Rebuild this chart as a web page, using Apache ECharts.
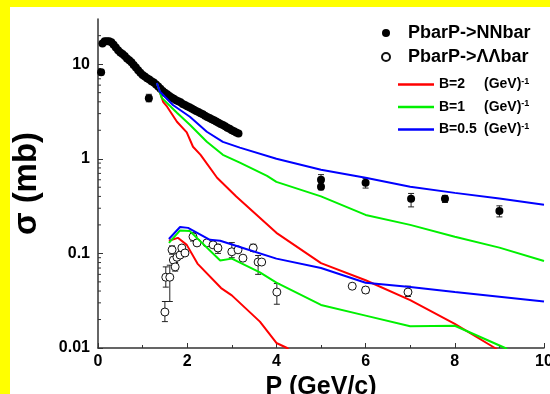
<!DOCTYPE html>
<html>
<head>
<meta charset="utf-8">
<script src="https://cdn.jsdelivr.net/npm/echarts@6/dist/echarts.min.js"></script>
<style>
html,body{margin:0;padding:0;background:#ffff00;}
#c{width:550px;height:394px;}
</style>
</head>
<body>
<div id="c"></div>
<script>
// ---- data ----
const xTicks = [0, 2, 4, 6, 8, 10];
const yTickLabels = ['0.01', '0.1', '1', '10'];
const yMinorTicks = [0.02,0.03,0.04,0.05,0.06,0.07,0.08,0.09,0.2,0.3,0.4,0.5,0.6,0.7,0.8,0.9,2,3,4,5,6,7,8,9,20];

// dense measured NNbar data (P, sigma)
const nnDense = [
 [0.10,16.5],[0.15,17.5],[0.20,17.5],[0.25,17.5],[0.30,17.0],[0.35,16.0],[0.40,15.0],[0.45,14.0],
 [0.50,13.3],[0.55,12.8],[0.60,12.2],[0.65,11.5],[0.70,11.0],[0.75,10.5],[0.80,9.8],[0.85,9.2],
 [0.90,8.6],[0.95,8.1],[1.00,7.7],[1.05,7.4],[1.10,7.1],[1.15,6.9],[1.20,6.6],[1.25,6.4],
 [1.30,6.1],[1.35,5.8],[1.40,5.5],[1.45,5.2],[1.50,5.0],[1.55,4.8],[1.60,4.6],[1.65,4.45],
 [1.70,4.3],[1.75,4.15],[1.80,4.05],[1.85,3.95],[1.90,3.8],[1.95,3.7],[2.00,3.6],[2.05,3.5],
 [2.10,3.4],[2.15,3.3],[2.20,3.2],[2.25,3.12],[2.30,3.03],[2.35,2.95],[2.40,2.85],[2.45,2.77],
 [2.50,2.7],[2.55,2.62],[2.60,2.55],[2.65,2.47],[2.70,2.4],[2.75,2.33],[2.80,2.27],[2.85,2.2],
 [2.90,2.13],[2.95,2.07],[3.00,2.0],[3.05,1.95],[3.10,1.9],[3.15,1.85]
];
// isolated NNbar points
const nnPoints = [[0.07,8.2],[1.14,4.35],[5.0,0.60],[5.0,0.505],[6.0,0.557],[7.02,0.377],[7.78,0.377],[9.0,0.28]];
const nnErr = [[0.07,7.7,8.8],[1.14,4.0,4.8],[5.0,0.56,0.68],[5.0,0.47,0.54],[6.0,0.49,0.62],[7.02,0.31,0.43],[7.78,0.345,0.41],[9.0,0.243,0.318]];

// LambdaLambdabar points
const llPoints = [
 [1.50,0.024],[1.52,0.056],[1.61,0.056],[1.66,0.109],[1.69,0.085],[1.73,0.072],[1.77,0.091],
 [1.84,0.096],[1.88,0.114],[1.95,0.101],[2.13,0.15],[2.22,0.129],[2.44,0.129],[2.58,0.123],
 [2.69,0.114],[3.0,0.104],[3.14,0.109],[3.25,0.089],[3.48,0.114],[3.59,0.081],[3.67,0.081],
 [4.01,0.039],[5.7,0.045],[6.0,0.041],[6.95,0.039]
];
const llErr = [
 [1.50,0.019,0.031],[1.52,0.044,0.072],[1.61,0.031,0.075],[1.66,0.098,0.12],[1.73,0.065,0.08],
 [2.13,0.135,0.165],[2.69,0.10,0.125],[3.0,0.09,0.13],[3.48,0.105,0.125],[3.59,0.06,0.095],
 [4.01,0.029,0.048],[6.0,0.038,0.044],[6.95,0.035,0.045]
];

// model curves, NNbar
const nnB2 = [[1.32,6.3],[1.46,4.0],[1.55,3.55],[1.77,2.46],[1.99,1.9],[2.13,1.34],[2.3,1.1],[2.67,0.63],[3.1,0.40],[4.0,0.165],[5.0,0.079],[6.0,0.052],[7.0,0.032],[8.0,0.018],[8.9,0.01],[9.1,0.0085]];
const nnB1 = [[1.32,6.3],[1.43,4.4],[1.77,3.07],[2.06,2.29],[2.44,1.51],[2.8,1.10],[3.18,0.91],[3.79,0.66],[4.0,0.57],[5.0,0.40],[6.0,0.255],[7.0,0.20],[8.0,0.15],[9.0,0.115],[10,0.083]];
const nnB05 = [[1.32,6.3],[1.39,5.1],[1.68,3.7],[2.06,2.78],[2.44,1.93],[2.8,1.51],[3.18,1.31],[4.0,1.0],[5.0,0.765],[6.0,0.63],[7.0,0.506],[8.0,0.436],[9.0,0.38],[10,0.326]];
// model curves, LambdaLambdabar
const llB2 = [[1.59,0.136],[1.79,0.146],[1.99,0.123],[2.23,0.078],[2.76,0.043],[3.0,0.036],[3.63,0.019],[4.0,0.0113],[4.24,0.01],[4.35,0.0088]];
const llB1 = [[1.59,0.129],[1.84,0.175],[2.06,0.172],[2.74,0.084],[3.0,0.088],[3.63,0.063],[4.0,0.049],[5.0,0.0285],[6.0,0.022],[7.0,0.017],[8.0,0.0172],[9.13,0.01],[9.3,0.0087]];
const llB05 = [[1.59,0.142],[1.84,0.19],[2.02,0.186],[2.51,0.139],[2.74,0.136],[3.25,0.114],[4.0,0.088],[5.0,0.07],[6.0,0.049],[7.0,0.044],[8.0,0.039],[10,0.031]];

const NN = 'PbarP->NNbar';
const LL = 'PbarP->\u039B\u039Bbar';
const B2 = 'B=2', B1 = 'B=1', B05 = 'B=0.5';
const FONT = '"Liberation Sans", Arial, sans-serif';
const RED = '#ff0000', GREEN = '#00f000', BLUE = '#0000ff';

const chart = echarts.init(document.getElementById('c'), null, {renderer: 'canvas'});

function errRender(params, api) {
  const x = api.value(0);
  const lo = api.coord([x, api.value(1)]);
  const hi = api.coord([x, api.value(2)]);
  const st = {stroke: '#222', lineWidth: 1};
  return {type: 'group', children: [
    {type: 'line', shape: {x1: lo[0], y1: lo[1], x2: hi[0], y2: hi[1]}, style: st},
    {type: 'line', shape: {x1: lo[0]-3, y1: lo[1], x2: lo[0]+3, y2: lo[1]}, style: st},
    {type: 'line', shape: {x1: hi[0]-3, y1: hi[1], x2: hi[0]+3, y2: hi[1]}, style: st}
  ]};
}
function minorTickRender(params, api) {
  const p = api.coord([api.value(0), api.value(1)]);
  return {type: 'line', shape: {x1: p[0], y1: p[1], x2: p[0] + 3, y2: p[1]}, style: {stroke: '#333', lineWidth: 1}};
}
function lineSeries(name, data, color) {
  return {name, type: 'line', data, symbol: 'none', showSymbol: false, smooth: false, z: 5,
    lineStyle: {color, width: 2}, itemStyle: {color}, clip: true};
}

const option = {
  backgroundColor: '#ffff00',
  animation: false,
  graphic: [{type: 'rect', left: 10, top: 7, shape: {width: 540, height: 387}, style: {fill: '#ffffff'}, z: -100, silent: true}],
  grid: {left: 98, right: 6, top: 19, bottom: 46, containLabel: false, outerBoundsMode: 'none'},
  xAxis: {
    type: 'value', min: 0, max: 10, interval: 2,
    axisLine: {lineStyle: {color: '#333', width: 1.5}},
    axisTick: {inside: true, length: 5, lineStyle: {color: '#333'}},
    minorTick: {show: true, splitNumber: 2, length: 3, lineStyle: {color: '#333'}},
    splitLine: {show: false},
    axisLabel: {color: '#000', fontFamily: FONT, fontWeight: 'bold', fontSize: 16, margin: 6,
      formatter: v => xTicks.includes(v) ? String(v) : ''},
    name: 'P (GeV/c)', nameLocation: 'middle', nameGap: 24,
    nameTextStyle: {color: '#000', fontFamily: FONT, fontWeight: 'bold', fontSize: 25}
  },
  yAxis: {
    type: 'log', logBase: 10, min: 0.01, max: 30,
    axisLine: {show: true, lineStyle: {color: '#333', width: 1.5}},
    axisTick: {show: true, inside: true, length: 5, lineStyle: {color: '#333'}},
    splitLine: {show: false},
    axisLabel: {color: '#000', fontFamily: FONT, fontWeight: 'bold', fontSize: 16, margin: 8,
      showMaxLabel: false,
      formatter: v => { const s = String(+v.toPrecision(6)); return yTickLabels.includes(s) ? s : ''; }},
    name: '\u03C3 (mb)', nameLocation: 'middle', nameRotate: 90, nameGap: 55,
    nameTextStyle: {color: '#000', fontFamily: FONT, fontWeight: 'bold', fontSize: 33}
  },
  legend: [
    {data: [NN, LL], orient: 'vertical', left: 381, top: 24, padding: 0, itemWidth: 34, itemHeight: 8, itemGap: 6,
      textStyle: {color: '#000', fontFamily: FONT, fontWeight: 'bold', fontSize: 18, lineHeight: 18}},
    {data: [B2, B1, B05], orient: 'vertical', left: 398, top: 77, padding: 0, icon: 'rect', itemWidth: 36, itemHeight: 2.5, itemGap: 7.5,
      formatter: n => '{b|' + n + '}{g|(GeV)}{s|-1}',
      textStyle: {color: '#000', fontFamily: FONT, fontWeight: 'bold', fontSize: 14, lineHeight: 15,
        rich: {
          b: {fontFamily: FONT, fontWeight: 'bold', fontSize: 14, width: 45, lineHeight: 15},
          g: {fontFamily: FONT, fontWeight: 'bold', fontSize: 14, lineHeight: 15},
          s: {fontFamily: FONT, fontWeight: 'bold', fontSize: 9, verticalAlign: 'top', lineHeight: 9}
        }}}
  ],
  series: [
    {name: 'minor', type: 'custom', renderItem: minorTickRender, data: yMinorTicks.map(v => [0, v]), silent: true, z: 1, clip: false},
    {name: 'errNN', type: 'custom', renderItem: errRender, data: nnErr, encode: {x: 0, y: [1, 2]}, z: 2, silent: true},
    {name: 'errLL', type: 'custom', renderItem: errRender, data: llErr, encode: {x: 0, y: [1, 2]}, z: 2, silent: true},
    {name: NN, type: 'scatter', data: nnDense, symbol: 'circle', symbolSize: 8, itemStyle: {color: '#000', opacity: 1}, z: 3},
    {name: NN, type: 'scatter', data: nnPoints, symbol: 'circle', symbolSize: 8, itemStyle: {color: '#000', opacity: 1}, z: 3},
    {name: LL, type: 'scatter', data: llPoints, symbol: 'circle', symbolSize: 8,
      itemStyle: {color: '#fff', borderColor: '#111', borderWidth: 1, opacity: 1}, z: 3},
    lineSeries(B2, nnB2, RED),
    lineSeries(B1, nnB1, GREEN),
    lineSeries(B05, nnB05, BLUE),
    lineSeries(B2, llB2, RED),
    lineSeries(B1, llB1, GREEN),
    lineSeries(B05, llB05, BLUE)
  ]
};
chart.setOption(option);
</script>
</body>
</html>
